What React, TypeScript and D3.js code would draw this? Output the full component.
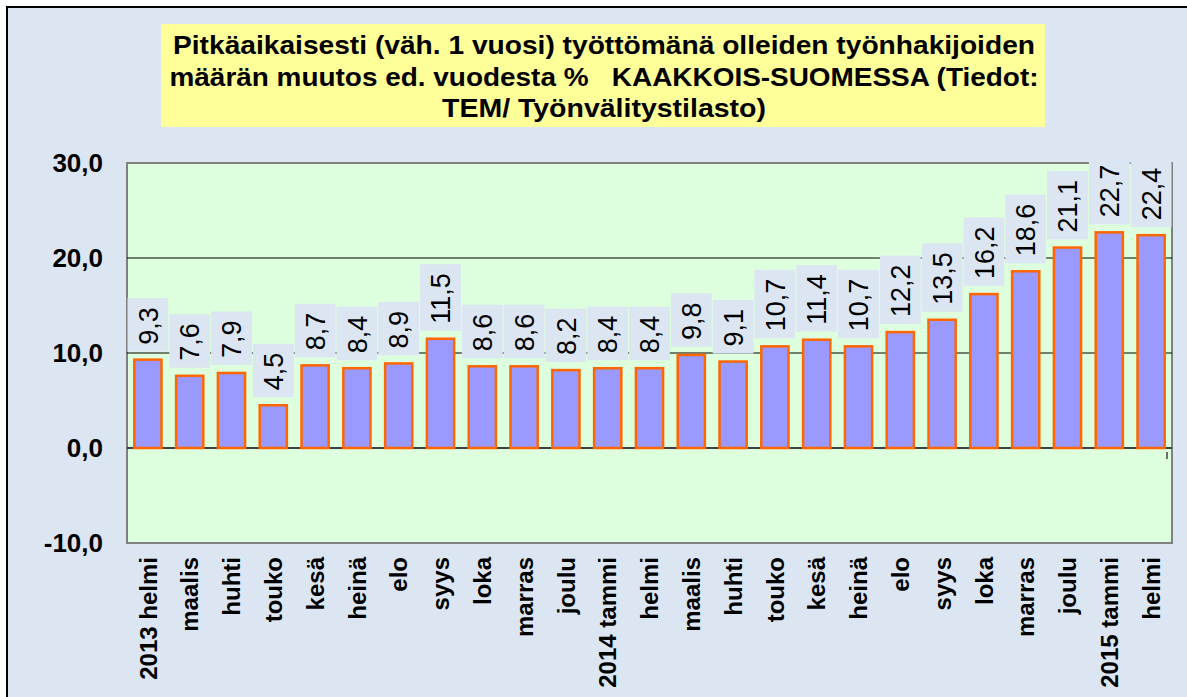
import React, { useEffect, useRef } from 'react'
import * as d3 from 'd3'

const months: string[] = [
  '2013 helmi', 'maalis', 'huhti', 'touko', 'kesä', 'heinä', 'elo', 'syys', 'loka', 'marras', 'joulu',
  '2014 tammi', 'helmi', 'maalis', 'huhti', 'touko', 'kesä', 'heinä', 'elo', 'syys', 'loka', 'marras', 'joulu',
  '2015 tammi', 'helmi'
]

const changePct: number[] = [
  9.3, 7.6, 7.9, 4.5, 8.7, 8.4, 8.9, 11.5, 8.6, 8.6, 8.2,
  8.4, 8.4, 9.8, 9.1, 10.7, 11.4, 10.7, 12.2, 13.5, 16.2, 18.6, 21.1,
  22.7, 22.4
]

const yTicks: number[] = [-10, 0, 10, 20, 30]

const titleLines: string[] = [
  'Pitkäaikaisesti (väh. 1 vuosi) työttömänä olleiden työnhakijoiden',
  'määrän muutos ed. vuodesta %   KAAKKOIS-SUOMESSA (Tiedot:',
  'TEM/ Työnvälitystilasto)'
]
const titleWidths: number[] = [862, 869, 324]

const FONT = "Arial, 'Liberation Sans', sans-serif"
const fmt = (v: number) => v.toFixed(1).replace('.', ',')

const App: React.FC = () => {
  const svgRef = useRef<SVGSVGElement>(null)

  useEffect(() => {
    document.body.style.margin = '0'
    if (!svgRef.current) return
    const svg = d3.select(svgRef.current)
    svg.selectAll('*').remove()

    const width = 1187
    const height = 697
    const plot = { left: 127, right: 1172, top: 163, bottom: 543 }

    svg.attr('width', width).attr('height', height)
      .style('display', 'block')
      .style('font-family', FONT)

    // outer chart area
    svg.append('rect').attr('width', width).attr('height', height).attr('fill', '#fff')
    svg.append('rect')
      .attr('x', 7).attr('y', 7)
      .attr('width', width).attr('height', height)
      .attr('fill', '#dce6f2')
      .attr('stroke', '#000')
      .attr('stroke-width', 2)

    // title box
    svg.append('rect')
      .attr('x', 161).attr('y', 24)
      .attr('width', 884).attr('height', 103)
      .attr('fill', '#ffff99')
    const title = svg.append('text')
      .attr('text-anchor', 'middle')
      .style('font-size', '25px')
      .style('font-weight', 'bold')
      .style('white-space', 'pre')
      .attr('fill', '#000')
    titleLines.forEach((line, i) => {
      title.append('tspan')
        .attr('x', 604)
        .attr('y', 54 + i * 31.5)
        .attr('textLength', titleWidths[i])
        .attr('lengthAdjust', 'spacingAndGlyphs')
        .text(line)
    })

    const x = d3.scaleBand<number>()
      .domain(d3.range(months.length))
      .range([plot.left, plot.right])
      .paddingInner(0.35)
      .paddingOuter(0.175)

    const y = d3.scaleLinear()
      .domain([-10, 30])
      .range([plot.bottom, plot.top])

    // plot area
    svg.append('rect')
      .attr('x', plot.left).attr('y', plot.top)
      .attr('width', plot.right - plot.left)
      .attr('height', plot.bottom - plot.top)
      .attr('fill', '#ddffdd')
      .attr('stroke', '#808080')
      .attr('stroke-width', 2)

    // gridlines
    yTicks.filter(t => t > -10 && t < 30).forEach(t => {
      svg.append('line')
        .attr('x1', plot.left).attr('x2', plot.right)
        .attr('y1', y(t)).attr('y2', y(t))
        .attr('stroke', t === 0 ? '#404040' : '#000')
        .attr('stroke-width', t === 0 ? 2 : 1)
    })

    // y labels
    yTicks.forEach(t => {
      svg.append('text')
        .attr('x', 103)
        .attr('y', y(t))
        .attr('dy', '0.36em')
        .attr('text-anchor', 'end')
        .style('font-size', '26px')
        .style('font-weight', 'bold')
        .attr('fill', '#000')
        .text(fmt(t))
    })

    // bars
    svg.selectAll('.bar')
      .data(changePct)
      .enter()
      .append('rect')
      .attr('class', 'bar')
      .attr('x', (d, i) => x(i)!)
      .attr('y', d => y(d))
      .attr('width', x.bandwidth())
      .attr('height', d => y(0) - y(d))
      .attr('fill', '#9999ff')
      .attr('stroke', '#ff6600')
      .attr('stroke-width', 2.5)

    // data labels with background boxes
    const step = x.step()
    changePct.forEach((d, i) => {
      const cx = x(i)! + x.bandwidth() / 2
      const barTop = y(d)
      const g = svg.append('g')
      const box = g.append('rect').attr('fill', '#dce6f2')
      const txt = g.append('text')
        .attr('transform', `translate(${cx},${barTop - 15}) rotate(-90)`)
        .attr('dy', '0.36em')
        .attr('text-anchor', 'start')
        .style('font-size', '27px')
        .attr('fill', '#000')
        .text(fmt(d))
      const len = (txt.node() as SVGTextElement).getComputedTextLength()
      const top = barTop - 15 - len - 9
      box.attr('x', cx - step / 2 + 0.5)
        .attr('y', top)
        .attr('width', step - 1)
        .attr('height', barTop - 8 - top)
    })

    // small mark near the right end of the zero line
    svg.append('line')
      .attr('x1', 1167).attr('x2', 1167)
      .attr('y1', y(0) + 4).attr('y2', y(0) + 11)
      .attr('stroke', '#404040')
      .attr('stroke-width', 1.5)

    // x labels
    months.forEach((m, i) => {
      const cx = x(i)! + x.bandwidth() / 2
      svg.append('text')
        .attr('transform', `translate(${cx},557) rotate(-90)`)
        .attr('dy', '0.36em')
        .attr('text-anchor', 'end')
        .style('font-size', '24px')
        .style('font-weight', 'bold')
        .attr('fill', '#000')
        .text(m)
    })
  }, [])

  return <svg ref={svgRef}></svg>
}

export default App
